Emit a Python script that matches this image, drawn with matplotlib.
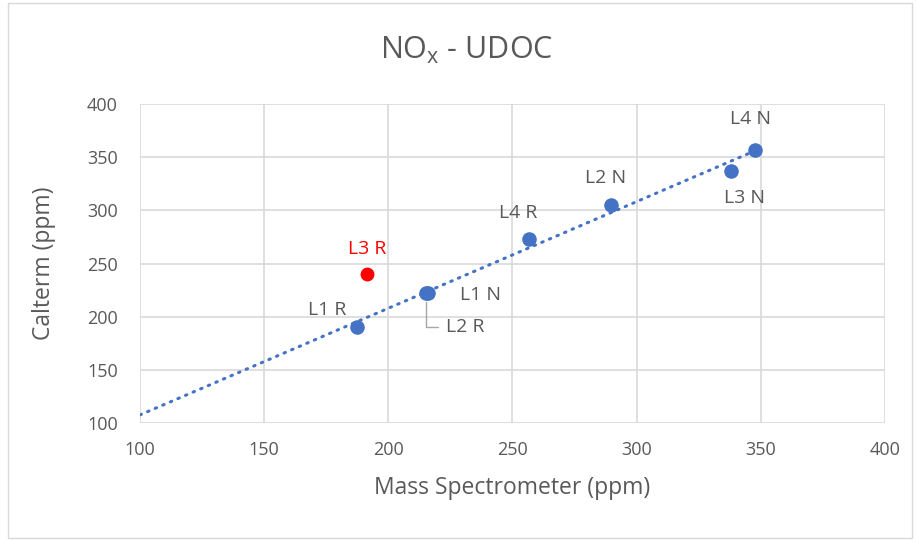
import numpy as np
import matplotlib.pyplot as plt
from matplotlib.patches import Rectangle

# data
labels = ['L1 R', 'L2 R', 'L1 N', 'L4 R', 'L2 N', 'L3 N', 'L4 N']
mass_spec = [187.5, 215, 216, 256.5, 289.5, 338, 347.5]
calterm = [190.5, 222, 222.5, 273.5, 305, 337, 357]
red_label = 'L3 R'
red_x = [191.5]
red_y = [240]

label_offsets = {'L1 R': (-30, 17), 'L1 N': (52, -2), 'L4 R': (-10, 26),
                 'L2 N': (-5, 27), 'L3 N': (14, -27), 'L4 N': (-4, 31)}

plt.rcParams['font.family'] = ['Open Sans', 'DejaVu Sans']
txt = '#595959'
blue = '#4472C4'

fig = plt.figure(figsize=(9.18, 5.4), dpi=100)
fig.patches.append(Rectangle((0.009, 0.004), 0.985, 0.99, transform=fig.transFigure,
                             fill=False, edgecolor='#d9d9d9', lw=1))
ax = fig.add_axes([0.1525, 0.2167, 0.8115, 0.5903])

# linear trendline through the blue series
k, b = np.polyfit(mass_spec, calterm, 1)
tx = np.array([100, max(mass_spec)])
ax.plot(tx, k * tx + b, color=blue, lw=2.2, ls=(0, (0.5, 2.2)),
        dash_capstyle='round', zorder=2)

ax.scatter(mass_spec, calterm, s=110, color=blue, zorder=3, linewidths=0)
ax.scatter(red_x, red_y, s=100, color='#FF0000', zorder=3, linewidths=0)

fs = 14
for lab, x, y in zip(labels, mass_spec, calterm):
    if lab == 'L2 R':
        ax.annotate(lab, (x, y), xytext=(40, -34), textcoords='offset pixels',
                    ha='center', va='center', fontsize=fs, color=txt,
                    arrowprops=dict(arrowstyle='-', color='#a6a6a6', lw=1,
                                    connectionstyle='angle,angleA=0,angleB=90,rad=0',
                                    shrinkA=4, shrinkB=6))
    else:
        ax.annotate(lab, (x, y), xytext=label_offsets[lab], textcoords='offset pixels',
                    ha='center', va='center', fontsize=fs, color=txt)
ax.annotate(red_label, (red_x[0], red_y[0]), xytext=(0, 25), textcoords='offset pixels',
            ha='center', va='center', fontsize=fs, color='#FF0000')

ax.set_xlim(100, 400)
ax.set_ylim(100, 400)
ax.set_xticks(np.arange(100, 401, 50))
ax.set_yticks(np.arange(100, 401, 50))
ax.grid(color='#d9d9d9', lw=1.2)
ax.set_axisbelow(True)
for s in ax.spines.values():
    s.set_visible(False)
ax.tick_params(length=0, labelsize=13, labelcolor=txt)
ax.tick_params(axis='x', pad=13)
ax.tick_params(axis='y', pad=16)

ax.set_xlabel('Mass Spectrometer (ppm)', fontsize=16.5, color=txt, labelpad=12)
ax.set_ylabel('Calterm (ppm)', fontsize=16.5, color=txt, labelpad=22)
fig.text(0.508, 0.907, r'NO$_\mathregular{x}$ - UDOC', ha='center', va='center',
         fontsize=22, color=txt)

fig.savefig('out.png', dpi=100)
